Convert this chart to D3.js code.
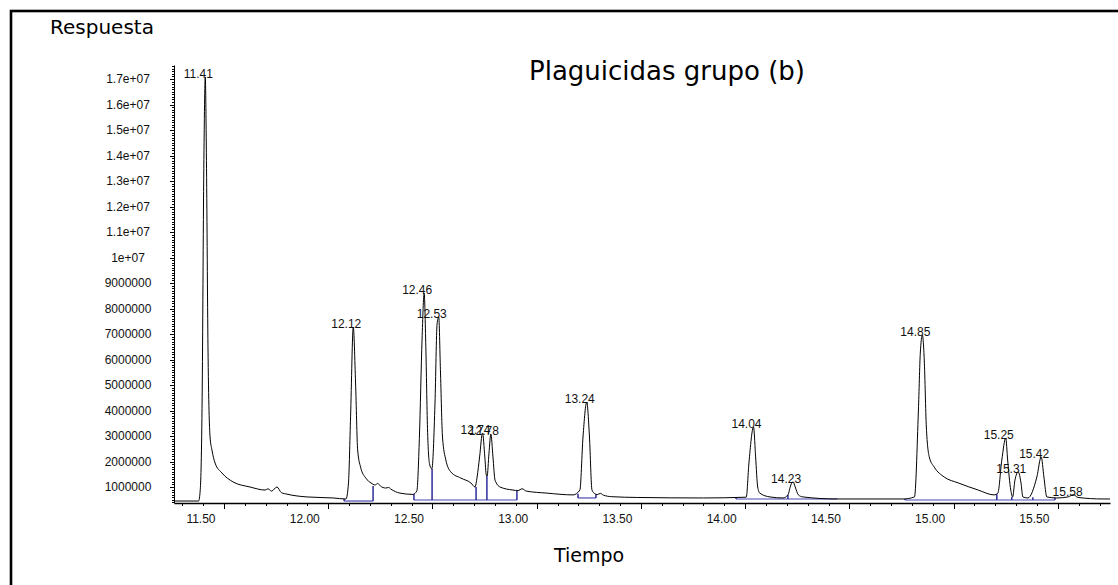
<!DOCTYPE html>
<html>
<head>
<meta charset="utf-8">
<script src="https://cdn.jsdelivr.net/npm/d3@7"></script>
<style>
  body { margin: 0; background: #fff; }
  svg { display: block; }
  .tick text { font-family: "Liberation Sans", Arial, sans-serif; font-size: 12px; fill: #111; }
  .lbl { font-family: "DejaVu Sans", Verdana, sans-serif; fill: #000; }
  .peak { font-family: "Liberation Sans", Arial, sans-serif; font-size: 12px; fill: #111; }
</style>
</head>
<body>
<svg id="chart" width="1118" height="585"></svg>
<script>
// trace: time (min) and response (millions of counts)
var traceTime = [11.265, 11.378, 11.386, 11.395, 11.403, 11.41, 11.416, 11.423, 11.433, 11.442, 11.457, 11.49, 11.543, 11.625,
  11.697, 11.711, 11.728, 11.754, 11.775, 11.802, 11.898, 12.023, 12.085, 12.097, 12.107, 12.12, 12.131, 12.141, 12.155,
  12.18, 12.205, 12.225, 12.237, 12.25, 12.275, 12.29, 12.30, 12.344, 12.406, 12.425, 12.437, 12.45, 12.46, 12.468, 12.476,
  12.486, 12.497, 12.512, 12.522, 12.53, 12.538, 12.548, 12.564, 12.588, 12.636, 12.684, 12.704, 12.714, 12.726, 12.74,
  12.751, 12.758, 12.762, 12.771, 12.78, 12.79, 12.80, 12.824, 12.886, 12.91, 12.93, 12.95, 13.049, 13.174, 13.207, 13.222,
  13.24, 13.253, 13.265, 13.28, 13.29, 13.305, 13.32, 13.36, 13.48, 13.8, 14.005, 14.018, 14.04, 14.05, 14.06, 14.07,
  14.119, 14.181, 14.205, 14.219, 14.23, 14.24, 14.255, 14.277, 14.44, 14.757, 14.812, 14.831, 14.84, 14.85, 14.859,
  14.869, 14.883, 14.907, 14.955, 15.022, 15.118, 15.194, 15.212, 15.231, 15.25, 15.259, 15.274, 15.283, 15.294, 15.31,
  15.323, 15.332, 15.356, 15.399, 15.42, 15.433, 15.447, 15.495, 15.548, 15.575, 15.596, 15.716, 15.75];
var traceResp = [0.45, 0.45, 0.9, 4.5, 13.5, 17.08, 13.5, 6.5, 2.96, 2.45, 1.94, 1.55, 1.20, 1.00,
  0.88, 0.93, 0.84, 1.00, 0.78, 0.72, 0.61, 0.57, 0.53, 1.16, 3.75, 7.27, 5.08, 2.45, 1.78,
  1.35, 1.16, 1.08, 1.14, 1.04, 0.96, 0.98, 0.92, 0.76, 0.71, 0.85, 2.9, 6.8, 8.61, 6.5, 3.3,
  1.9, 1.71, 4.29, 7.4, 7.67, 5.6, 2.96, 2.06, 1.59, 1.35, 1.16, 1.0, 1.39, 2.18, 3.12,
  2.18, 1.47, 1.43, 2.33, 3.08, 2.18, 1.27, 1.0, 0.88, 0.86, 0.93, 0.84, 0.76, 0.69, 0.88, 2.96,
  4.33, 2.96, 0.88, 0.73, 0.70, 0.75, 0.68, 0.62, 0.59, 0.57, 0.60, 1.94, 3.35, 2.18, 1.0, 0.76,
  0.61, 0.57, 0.69, 1.08, 1.20, 1.00, 0.69, 0.61, 0.53, 0.53, 0.61, 4.02, 6.25, 6.96, 5.98,
  3.35, 2.18, 1.78, 1.39, 1.16, 0.88, 0.69, 0.76, 2.06, 2.92, 2.06, 0.88, 0.61, 1.27, 1.59,
  1.16, 0.61, 0.57, 1.39, 2.18, 1.39, 0.61, 0.57, 0.61, 0.70, 0.59, 0.53, 0.53];

// labelled peaks
var peakTimes = [11.41, 12.12, 12.46, 12.53, 12.74, 12.78, 13.24, 14.04, 14.23, 14.85, 15.25, 15.31, 15.42, 15.58];
var peakResp = [17.08, 7.27, 8.61, 7.67, 3.12, 3.08, 4.33, 3.35, 1.20, 6.96, 2.92, 1.59, 2.18, 0.70];

// integration baselines (blue) and their drop lines
var baseStart = [12.076, 12.411, 13.198, 13.956, 14.766];
var baseEnd = [12.215, 12.905, 13.284, 14.44, 15.486];
var baseResp = [0.45, 0.49, 0.57, 0.53, 0.49];
var dropTimes = [12.076, 12.215, 12.411, 12.498, 12.709, 12.761, 12.905, 13.198, 13.284, 13.956, 14.205, 14.44, 14.766, 15.207, 15.279, 15.38, 15.486];
var dropBase = [0.45, 0.45, 0.49, 0.49, 0.49, 0.49, 0.49, 0.57, 0.57, 0.53, 0.53, 0.53, 0.49, 0.49, 0.49, 0.49, 0.49];
var dropTop = [0.53, 1.04, 0.73, 1.71, 1.0, 1.43, 0.84, 0.74, 0.72, 0.60, 0.69, 0.55, 0.53, 0.72, 0.61, 0.6, 0.58];

// axes
var xMajor = [11.5, 12.0, 12.5, 13.0, 13.5, 14.0, 14.5, 15.0, 15.5];
var xLabels = ["11.50", "12.00", "12.50", "13.00", "13.50", "14.00", "14.50", "15.00", "15.50"];
var yMajor = [1, 2, 3, 4, 5, 6, 7, 8, 9, 10, 11, 12, 13, 14, 15, 16, 17];
var yLabels = ["1000000", "2000000", "3000000", "4000000", "5000000", "6000000", "7000000", "8000000", "9000000",
  "1e+07", "1.1e+07", "1.2e+07", "1.3e+07", "1.4e+07", "1.5e+07", "1.6e+07", "1.7e+07"];

var svg = d3.select("#chart");

// frame
svg.append("rect")
  .attr("x", 11).attr("y", 11)
  .attr("width", 1130).attr("height", 600)
  .attr("fill", "none").attr("stroke", "#000").attr("stroke-width", 2.6);

var x = d3.scaleLinear().domain([11.26, 15.75]).range([174, 1110]);
var y = d3.scaleLinear().domain([0.3725, 17.55]).range([503, 65]);

// minor ticks every 0.1
var xMinor = d3.range(11.3, 15.75, 0.1).map(function(d){ return +d.toFixed(1); })
  .filter(function(d){ return xMajor.indexOf(d) < 0; });
var yMinor = d3.range(0.4, 17.55, 0.1).map(function(d){ return +d.toFixed(1); })
  .filter(function(d){ return yMajor.indexOf(d) < 0; });

svg.append("g")
  .attr("transform", "translate(0,503)")
  .call(d3.axisBottom(x).tickValues(xMinor).tickSize(3).tickSizeOuter(0).tickFormat(""))
  .call(function(g){ g.select(".domain").remove(); });

var xg = svg.append("g")
  .attr("transform", "translate(0,503)")
  .call(d3.axisBottom(x).tickValues(xMajor).tickSize(6).tickSizeOuter(0)
    .tickFormat(function(d, i){ return xLabels[i]; }));
xg.select(".domain").attr("stroke-width", 1.6);
xg.selectAll(".tick text")
  .attr("text-anchor", "end")
  .attr("x", -9)
  .attr("y", 20)
  .attr("dy", 0);

svg.append("g")
  .attr("transform", "translate(174,0)")
  .call(d3.axisLeft(y).tickValues(yMinor).tickSize(2).tickSizeOuter(0).tickFormat(""))
  .call(function(g){ g.select(".domain").remove(); });

var yg = svg.append("g")
  .attr("transform", "translate(174,0)")
  .call(d3.axisLeft(y).tickValues(yMajor).tickSize(4).tickSizeOuter(0)
    .tickFormat(function(d, i){ return yLabels[i]; }));
yg.selectAll(".tick text")
  .attr("text-anchor", "middle")
  .attr("x", -46);

svg.selectAll(".tick line").attr("shape-rendering", "crispEdges");

// integration baselines
var blue = "#1d1d94";
svg.append("g").selectAll("line")
  .data(baseStart)
  .enter().append("line")
  .attr("x1", function(d){ return x(d); })
  .attr("x2", function(d, i){ return x(baseEnd[i]); })
  .attr("y1", function(d, i){ return y(baseResp[i]); })
  .attr("y2", function(d, i){ return y(baseResp[i]); })
  .attr("stroke", "#4848b0").attr("stroke-width", 1.2);

svg.append("g").selectAll("line")
  .data(dropTimes)
  .enter().append("line")
  .attr("x1", function(d){ return x(d); })
  .attr("x2", function(d){ return x(d); })
  .attr("y1", function(d, i){ return y(dropBase[i]); })
  .attr("y2", function(d, i){ return y(dropTop[i]); })
  .attr("stroke", blue).attr("stroke-width", 1.4);

// trace
var line = d3.line()
  .x(function(d){ return x(d); })
  .y(function(d, i){ return y(traceResp[i]); })
  .curve(d3.curveMonotoneX);

svg.append("path")
  .attr("d", line(traceTime))
  .attr("fill", "none")
  .attr("stroke", "#000")
  .attr("stroke-width", 1);

// peak labels
svg.append("g").selectAll("text")
  .data(peakTimes)
  .enter().append("text")
  .attr("class", "peak")
  .attr("text-anchor", "middle")
  .attr("x", function(d){ return x(d) - 7; })
  .attr("y", function(d, i){ return y(peakResp[i]) + 1; })
  .text(function(d){ return d.toFixed(2); });

// titles
svg.append("text").attr("class", "lbl")
  .attr("x", 50).attr("y", 34)
  .style("font-size", "20px")
  .text("Respuesta");

svg.append("text").attr("class", "lbl")
  .attr("x", 667).attr("y", 80)
  .attr("text-anchor", "middle")
  .style("font-size", "26px")
  .text("Plaguicidas grupo (b)");

svg.append("text").attr("class", "lbl")
  .attr("x", 589).attr("y", 562)
  .attr("text-anchor", "middle")
  .style("font-size", "19px")
  .text("Tiempo");
</script>
</body>
</html>
